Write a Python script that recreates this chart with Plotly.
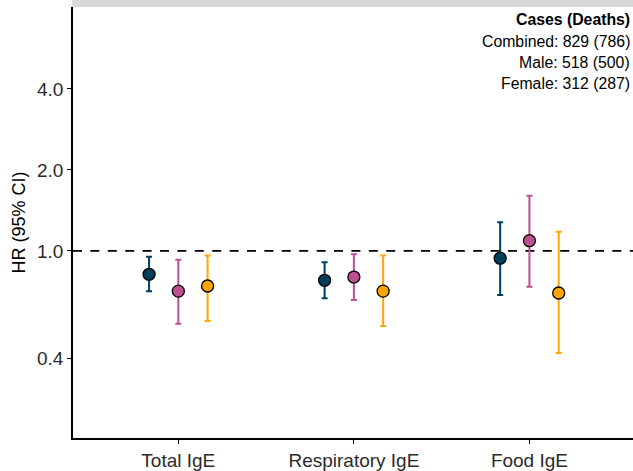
import plotly.graph_objects as go

categories = ["Total IgE", "Respiratory IgE", "Food IgE"]
groups = ["Combined", "Male", "Female"]
colors = ["#003f5c", "#bc5090", "#ffa600"]

hr = {
    "Combined": [0.819, 0.778, 0.940],
    "Male":     [0.709, 0.800, 1.092],
    "Female":   [0.741, 0.709, 0.698],
}
lower = {
    "Combined": [0.708, 0.667, 0.686],
    "Male":     [0.536, 0.658, 0.737],
    "Female":   [0.549, 0.526, 0.418],
}
upper = {
    "Combined": [0.952, 0.908, 1.278],
    "Male":     [0.928, 0.972, 1.605],
    "Female":   [0.961, 0.961, 1.180],
}
case_lines = ["Combined: 829 (786)", "Male: 518 (500)", "Female: 312 (287)"]
y_ticks = [0.4, 1.0, 2.0, 4.0]
y_ticktext = ["0.4", "1.0", "2.0", "4.0"]

FONT = "Liberation Sans, Arial, sans-serif"
dodge = 1.0 / 6.0
x_range = [0.4, 3.59]

fig = go.Figure()

# reference line at HR = 1
fig.add_trace(go.Scatter(
    x=x_range, y=[1, 1], mode="lines",
    line=dict(color="black", width=1.8, dash="9px,8.4px"),
    hoverinfo="skip", showlegend=False,
))

for gi, (g, col) in enumerate(zip(groups, colors)):
    xs = [ci + 1 + (gi - 1) * dodge for ci in range(len(categories))]
    ys = hr[g]
    fig.add_trace(go.Scatter(
        x=xs, y=ys, mode="markers", name=g, showlegend=False,
        marker=dict(size=12, color=col, line=dict(color="black", width=1.3)),
        error_y=dict(
            type="data", symmetric=False,
            array=[u - v for u, v in zip(upper[g], ys)],
            arrayminus=[v - l for v, l in zip(ys, lower[g])],
            color=col, thickness=2, width=3,
        ),
    ))

H_PLOT = 431.0
def py(pix):
    return (438.0 - pix) / H_PLOT

ann = [dict(text="<b>Cases (Deaths)</b>", y=py(19))]
for t, yy in zip(case_lines, [41.5, 62.5, 83]):
    ann.append(dict(text=t, y=py(yy)))
for a in ann:
    fig.add_annotation(
        xref="paper", yref="paper", x=1, xanchor="right", xshift=-1,
        yanchor="middle", showarrow=False,
        font=dict(family=FONT, size=15.8, color="black"), **a,
    )

# facet strip (partially visible)
fig.add_shape(type="rect", xref="paper", yref="paper",
              x0=-0.002, x1=1.01, y0=1.0, y1=1 + 8 / H_PLOT,
              fillcolor="#d9d9d9", line=dict(width=0), layer="below")

fig.update_layout(
    width=633, height=471,
    margin=dict(l=73, r=0, t=7, b=33),
    paper_bgcolor="white", plot_bgcolor="white",
    font=dict(family=FONT, size=19, color="#2b2b2b"),
    showlegend=False,
    xaxis=dict(
        range=x_range, tickmode="array", tickvals=[1, 2, 3], ticktext=categories,
        showgrid=False, zeroline=False, showline=True, linecolor="black", linewidth=1.6,
        ticks="outside", ticklen=4, tickwidth=1.3, tickcolor="black",
        tickfont=dict(size=19, color="#2b2b2b"),
    ),
    yaxis=dict(
        type="log", range=[-0.6951, 0.9067],
        tickmode="array", tickvals=y_ticks, ticktext=y_ticktext,
        showgrid=False, zeroline=False, showline=True, linecolor="black", linewidth=1.6,
        ticks="outside", ticklen=4, tickwidth=1.3, tickcolor="black",
        tickfont=dict(size=19, color="#2b2b2b"),
        title=dict(text="HR (95% CI)", font=dict(size=18, color="black"), standoff=7),
    ),
)

fig.write_html(
    "out.html",
    config={"displayModeBar": False},
    post_script="document.body.style.margin='0';document.body.style.overflow='hidden';",
)
